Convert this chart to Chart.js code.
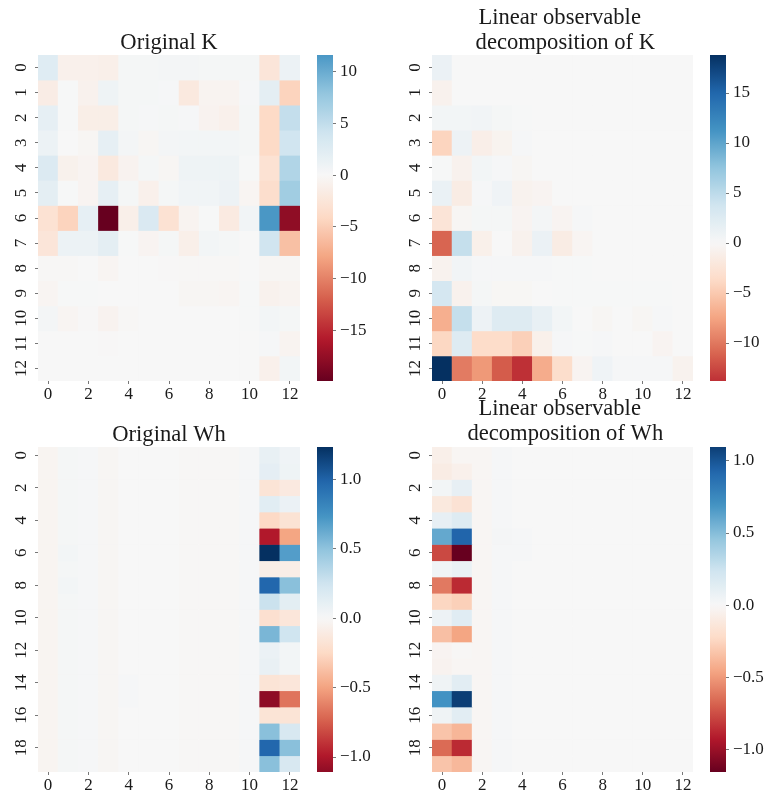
<!DOCTYPE html>
<html>
<head>
<meta charset="utf-8">
<script src="https://cdn.jsdelivr.net/npm/chart.js@4.4.0/dist/chart.umd.min.js"></script>
<style>
  body { margin: 0; background: #fff; }
  #wrap { position: relative; width: 767px; height: 797px; overflow: hidden; }
  canvas { position: absolute; }
</style>
</head>
<body>
<div id="wrap"></div>
<script>
// Column / row tick labels
const columns = ['0','1','2','3','4','5','6','7','8','9','10','11','12'];
const colTicks = [0, 2, 4, 6, 8, 10, 12];
const kRowTicks = [0, 1, 2, 3, 4, 5, 6, 7, 8, 9, 10, 11, 12];
const whRowTicks = [0, 2, 4, 6, 8, 10, 12, 14, 16, 18];

// Colorbar tick labels
const kOrigBarTicks = [10, 5, 0, -5, -10, -15];
const kDecompBarTicks = [15, 10, 5, 0, -5, -10];
const whBarTicks = [1.0, 0.5, 0.0, -0.5, -1.0];

// Original K (13 x 13)
const kOriginal = [
  [2.5, -1.0, -1.0, -1.2, 0.3, 0.3, 0.4, 0.4, 0.3, 0.3, 0.3, -2.5, 1.2],
  [-1.5, 0.1, -0.8, 0.9, 0.3, 0.3, 0.2, -2.0, -0.6, -0.6, 0.2, 2.0, -4.5],
  [1.8, 0.1, -1.3, -1.3, 0.3, 0.2, 0.3, 0.2, -0.7, -1.0, 0.3, -4.0, 4.8],
  [1.2, 0.0, -0.3, 1.8, 0.4, -0.3, 0.4, 0.5, 0.5, 0.5, 0.3, -4.0, 4.0],
  [2.8, -0.9, -0.5, -2.0, -0.7, 0.3, -0.3, 0.9, 0.9, 0.9, 0.1, -3.0, 6.0],
  [2.0, 0.1, -0.5, 1.8, 0.3, -1.0, 0.3, 0.7, 0.7, 1.0, -0.4, -3.5, 7.0],
  [-3.0, -4.5, 1.8, -19.9, -1.2, 3.0, -3.0, -0.6, 0.1, -1.8, 0.6, 11.6, -17.8],
  [-2.5, 1.2, 1.2, 2.0, 0.1, -0.5, 0.3, -1.2, 0.5, 0.3, 0.0, 4.0, -6.0],
  [-0.2, -0.2, 0.0, -0.4, 0.0, 0.0, -0.1, -0.2, -0.2, -0.2, 0.0, -0.3, -0.3],
  [-0.4, 0.1, 0.1, 0.0, 0.0, 0.0, 0.0, -0.3, -0.3, -0.4, 0.1, -0.8, -0.6],
  [0.4, -0.4, -0.1, -0.7, -0.2, 0.0, 0.0, 0.0, 0.0, 0.0, 0.1, 0.5, 0.3],
  [0.0, 0.0, 0.0, -0.1, 0.0, 0.0, 0.0, 0.0, 0.0, 0.0, 0.0, 0.2, -0.6],
  [0.0, 0.0, 0.0, 0.0, 0.0, 0.0, 0.0, 0.0, 0.0, 0.0, 0.0, -1.0, 0.5]
];

// Linear observable decomposition of K (13 x 13)
const kDecomp = [
  [1.2, 0, 0, 0, 0, 0, 0, 0, 0, 0, 0, 0, 0],
  [-0.8, 0, 0, 0, 0, 0, 0, 0, 0, 0, 0, 0, 0],
  [0.5, 0.5, 0.6, 0.3, 0.1, 0, 0, 0, 0, 0, 0, 0, 0],
  [-4.2, 1.0, -1.2, -0.6, 0.2, 0, 0, 0, 0, 0, 0, 0, 0],
  [0.1, -0.8, 0.5, 0.2, -0.3, 0, 0, 0, 0, 0, 0, 0, 0],
  [1.3, -1.5, 0.2, 0.8, -0.7, -0.5, 0, 0, 0, 0, 0, 0, 0],
  [-2.5, -0.3, 0.3, 0.3, -0.5, 0.4, -0.5, 0.2, 0, 0, 0, 0, 0],
  [-11.0, 4.5, -1.0, 0.0, -0.8, 1.2, -1.5, -0.4, 0, 0, 0, 0, 0],
  [-0.7, 0.6, 0.2, 0.2, 0.2, 0.2, 0.1, 0.1, 0, 0, 0, 0, 0],
  [3.4, -0.8, 0.3, -0.2, -0.2, 0.0, 0.1, 0.1, 0.1, 0.1, 0.1, 0.1, 0],
  [-6.8, 4.5, 1.0, 2.5, 2.5, 1.5, 0.5, 0.0, -0.3, 0.0, -0.3, 0.2, 0.0],
  [-4.0, 2.5, -3.5, -3.5, -4.5, -1.0, 0.2, 0.1, 0.2, 0.0, 0.0, -0.5, 0.0],
  [18.8, -9.8, -8.2, -11.5, -13.8, -7.0, -3.4, -0.5, 0.8, 0.2, 0.2, 0.2, -0.7]
];

// Original Wh (20 x 13)
const whOriginal = [
  [-0.03, 0.02, 0.015, -0.02, 0, 0, 0, -0.01, -0.01, -0.01, 0.01, 0.10, 0.05],
  [-0.03, 0.02, 0.015, -0.02, 0, 0, 0, -0.01, -0.01, -0.01, 0.01, 0.12, 0.06],
  [-0.03, 0.02, 0.015, -0.02, 0, 0, 0, -0.01, -0.01, -0.01, 0.01, -0.17, -0.12],
  [-0.03, 0.02, 0.015, -0.02, 0, 0, 0, -0.01, -0.01, -0.01, 0.01, 0.14, 0.08],
  [-0.03, 0.02, 0.015, -0.02, 0, 0, 0, -0.01, -0.01, -0.01, 0.01, -0.25, -0.18],
  [-0.03, 0.02, 0.015, -0.02, 0, 0, 0, -0.01, -0.01, -0.01, 0.01, -0.99, -0.49],
  [-0.03, 0.03, 0.015, -0.02, 0, 0, 0, -0.01, -0.01, -0.01, 0.01, 1.235, 0.69],
  [-0.03, 0.02, 0.015, -0.02, 0, 0, 0, -0.01, -0.01, -0.01, 0.01, -0.08, -0.08],
  [-0.03, 0.03, 0.015, -0.02, 0, 0, 0, -0.01, -0.01, -0.01, 0.01, 0.98, 0.52],
  [-0.03, 0.02, 0.015, -0.02, 0, 0, 0, -0.01, -0.01, -0.01, 0.01, 0.27, 0.13],
  [-0.03, 0.02, 0.015, -0.02, 0, 0, 0, -0.01, -0.01, -0.01, 0.01, -0.2, -0.15],
  [-0.03, 0.02, 0.015, -0.02, 0, 0, 0, -0.01, -0.01, -0.01, 0.01, 0.57, 0.25],
  [-0.03, 0.02, 0.015, -0.02, 0, 0, 0, -0.01, -0.01, -0.01, 0.01, 0.08, 0.03],
  [-0.03, 0.02, 0.015, -0.02, 0, 0, 0, -0.01, -0.01, -0.01, 0.01, 0.09, 0.03],
  [-0.03, 0.02, 0.015, -0.02, 0.01, 0, 0, -0.01, -0.01, -0.01, 0.01, -0.17, -0.15],
  [-0.03, 0.02, 0.015, -0.02, 0.01, 0, 0, -0.01, -0.01, -0.01, 0.01, -1.108, -0.67],
  [-0.03, 0.02, 0.015, -0.02, 0, 0, 0, -0.01, -0.01, -0.01, 0.01, -0.17, -0.17],
  [-0.03, 0.02, 0.015, -0.02, 0, 0, 0, -0.01, -0.01, -0.01, 0.01, 0.52, 0.2],
  [-0.03, 0.02, 0.015, -0.02, 0, 0, 0, -0.01, -0.01, -0.01, 0.01, 0.98, 0.52],
  [-0.03, 0.02, 0.015, -0.02, 0, 0, 0, -0.01, -0.01, -0.01, 0.01, 0.52, 0.2]
];

// Linear observable decomposition of Wh (20 x 13)
const whDecomp = [
  [-0.07, -0.02, -0.02, 0.01, 0, 0, 0, 0, 0, 0, 0, 0, 0],
  [-0.09, -0.06, -0.02, 0.01, 0, 0, 0, 0, 0, 0, 0, 0, 0],
  [0.03, 0.10, -0.02, 0.01, 0, 0, 0, 0, 0, 0, 0, 0, 0],
  [-0.12, -0.17, -0.02, 0.01, 0, 0, 0, 0, 0, 0, 0, 0, 0],
  [0.10, 0.15, -0.02, 0.01, 0, 0, 0, 0, 0, 0, 0, 0, 0],
  [0.60, 0.93, -0.02, 0.02, 0.01, 0, 0, 0, 0, 0, 0, 0, 0],
  [-0.77, -1.159, -0.02, 0.01, 0.01, 0, 0, 0, 0, 0, 0, 0, 0],
  [0.04, 0.08, -0.02, 0.01, 0, 0, 0, 0, 0, 0, 0, 0, 0],
  [-0.61, -0.87, -0.02, 0.01, 0, 0, 0, 0, 0, 0, 0, 0, 0],
  [-0.25, -0.28, -0.02, 0.01, 0, 0, 0, 0, 0, 0, 0, 0, 0],
  [0.06, 0.14, -0.02, 0.01, 0, 0, 0, 0, 0, 0, 0, 0, 0],
  [-0.35, -0.46, -0.02, 0.01, 0, 0, 0, 0, 0, 0, 0, 0, 0],
  [-0.03, -0.01, -0.02, 0.01, 0, 0, 0, 0, 0, 0, 0, 0, 0],
  [-0.04, -0.02, -0.02, 0.01, 0, 0, 0, 0, 0, 0, 0, 0, 0],
  [0.05, 0.13, -0.02, 0.01, 0, 0, 0, 0, 0, 0, 0, 0, 0],
  [0.70, 1.097, -0.02, 0.01, 0, 0, 0, 0, 0, 0, 0, 0, 0],
  [0.05, 0.13, -0.02, 0.01, 0, 0, 0, 0, 0, 0, 0, 0, 0],
  [-0.33, -0.39, -0.02, 0.01, 0, 0, 0, 0, 0, 0, 0, 0, 0],
  [-0.66, -0.87, -0.02, 0.01, 0, 0, 0, 0, 0, 0, 0, 0, 0],
  [-0.33, -0.38, -0.02, 0.01, 0, 0, 0, 0, 0, 0, 0, 0, 0]
];

const FONT = "'Liberation Serif', 'DejaVu Serif', serif";
const TEXT = '#1a1a1a';
const TITLE_SIZE = 22.6;
Chart.defaults.font.family = FONT;
Chart.defaults.color = TEXT;

// RdBu colormap (matplotlib), red = low, blue = high
const rdbu = ['#67001f', '#b2182b', '#d6604d', '#f4a582', '#fddbc7', '#f7f7f7',
              '#d1e5f0', '#92c5de', '#4393c3', '#2166ac', '#053061'];
const rdbuRgb = rdbu.map(h => [1, 3, 5].map(i => parseInt(h.substr(i, 2), 16)));

function cmap(v, lim) {
  let t = (v + lim) / (2 * lim);
  t = Math.max(0, Math.min(1, t));
  const p = t * 10;
  const i = Math.min(9, Math.floor(p));
  const f = p - i;
  const a = rdbuRgb[i], b = rdbuRgb[i + 1];
  const c = a.map((x, k) => Math.round(x + (b[k] - x) * f));
  return `rgb(${c[0]},${c[1]},${c[2]})`;
}

function fmtBar(v, digits) {
  const s = Math.abs(v).toFixed(digits);
  return v < 0 ? '\u2212' + s : s;
}

const wrap = document.getElementById('wrap');
function makeCanvas(left, top, w, h) {
  const c = document.createElement('canvas');
  c.width = w; c.height = h;
  c.style.left = left + 'px'; c.style.top = top + 'px';
  c.style.width = w + 'px'; c.style.height = h + 'px';
  wrap.appendChild(c);
  return c;
}

// rotated y tick labels, like seaborn
const rotatedYLabels = {
  id: 'rotatedYLabels',
  afterDraw(chart) {
    const s = chart.scales.y;
    const ctx = chart.ctx;
    ctx.save();
    ctx.font = '17px ' + FONT;
    ctx.fillStyle = TEXT;
    ctx.textAlign = 'center';
    ctx.textBaseline = 'middle';
    s.ticks.forEach(t => {
      const y = s.getPixelForValue(t.value);
      ctx.save();
      ctx.translate(chart.chartArea.left - 16.5, y);
      ctx.rotate(-Math.PI / 2);
      ctx.fillText(String(t.value - 0.5), 0, 0);
      ctx.restore();
    });
    ctx.restore();
  }
};

function drawHeatmap(p) {
  const canvasTop = p.canvasTop;
  const w = (p.R - p.L) + 45;
  const h = (p.B - canvasTop) + 24;
  const canvas = makeCanvas(p.L - 40, canvasTop, w, h);
  const nRows = p.values.length;
  const lh = p.lineHeight;
  const padTop = p.titleCenter - canvasTop - lh / 2;
  const padBottom = (p.T - canvasTop) - padTop - lh * p.title.length;

  const datasets = p.values.map((row, r) => ({
    data: row.map(() => [r, r + 1]),
    backgroundColor: row.map(v => cmap(v, p.lim)),
    borderWidth: 0,
    barPercentage: 1,
    categoryPercentage: 1,
    grouped: false
  }));

  new Chart(canvas.getContext('2d'), {
    type: 'bar',
    data: { labels: columns, datasets: datasets },
    options: {
      responsive: false,
      animation: false,
      layout: { padding: { left: 0, right: 5, top: 0, bottom: 0 } },
      plugins: {
        legend: { display: false },
        tooltip: { enabled: false },
        title: {
          display: true,
          text: p.title,
          fullSize: false,
          color: TEXT,
          font: { family: FONT, size: TITLE_SIZE, weight: 'normal', lineHeight: lh / TITLE_SIZE },
          padding: { top: padTop, bottom: padBottom }
        }
      },
      scales: {
        x: {
          type: 'category',
          offset: true,
          grid: { offset: false, drawOnChartArea: false, drawTicks: true, tickLength: 3, color: '#555', lineWidth: 0.8 },
          border: { display: false },
          ticks: { autoSkip: false, maxRotation: 0, padding: 0, color: TEXT, font: { family: FONT, size: 17 } },
          afterBuildTicks: s => { s.ticks = colTicks.map(c => ({ value: c })); },
          afterFit: s => { s.height = 24; }
        },
        y: {
          type: 'linear',
          min: 0,
          max: nRows,
          reverse: true,
          grid: { drawOnChartArea: false, drawTicks: true, tickLength: 3, color: '#555', lineWidth: 0.8 },
          border: { display: false },
          ticks: { display: false },
          afterBuildTicks: s => { s.ticks = p.rowTicks.map(r => ({ value: r + 0.5 })); },
          afterFit: s => { s.width = 40; }
        }
      }
    },
    plugins: [rotatedYLabels]
  });
}

function drawColorbar(p) {
  const canvasTop = p.canvasTop;
  const h = (p.B - canvasTop) + 24;
  const canvas = makeCanvas(p.CL - 5, canvasTop, 71, h);
  new Chart(canvas.getContext('2d'), {
    type: 'bar',
    data: {
      labels: ['bar'],
      datasets: [{
        data: [[p.vmin, p.vmax]],
        borderWidth: 0,
        barPercentage: 1,
        categoryPercentage: 1,
        backgroundColor: (ctx) => {
          const ch = ctx.chart;
          if (!ch.chartArea) return null;
          const ys = ch.scales.y;
          const y0 = ys.getPixelForValue(p.vmin);
          const y1 = ys.getPixelForValue(p.vmax);
          const g = ch.ctx.createLinearGradient(0, y0, 0, y1);
          for (let i = 0; i <= 60; i++) {
            const f = i / 60;
            g.addColorStop(f, cmap(p.vmin + f * (p.vmax - p.vmin), p.lim));
          }
          return g;
        }
      }]
    },
    options: {
      responsive: false,
      animation: false,
      layout: { padding: { left: 5, right: 0, top: p.T - canvasTop, bottom: h - (p.B - canvasTop) } },
      plugins: { legend: { display: false }, tooltip: { enabled: false } },
      scales: {
        x: { display: false },
        y: {
          type: 'linear',
          position: 'right',
          min: p.vmin,
          max: p.vmax,
          grid: { drawOnChartArea: false, drawTicks: true, tickLength: 3, color: '#555', lineWidth: 0.8 },
          border: { display: false },
          ticks: {
            padding: 4,
            color: TEXT,
            font: { family: FONT, size: 17 },
            callback: (v) => fmtBar(v, p.digits)
          },
          afterBuildTicks: s => { s.ticks = p.barTicks.map(v => ({ value: v })); },
          afterFit: s => { s.width = 50; }
        }
      }
    }
  });
}

const panels = [
  { title: ['Original K'], titleCenter: 42.7, lineHeight: 24.2,
    L: 38, R: 300, T: 55, B: 381, canvasTop: 0, CL: 317,
    values: kOriginal, rowTicks: kRowTicks, lim: 19.9, vmin: -19.9, vmax: 11.6,
    barTicks: kOrigBarTicks, digits: 0 },
  { title: ['Linear observable ', ' decomposition of K'], titleCenter: 18.4, lineHeight: 24.3,
    L: 432, R: 693, T: 55, B: 381, canvasTop: 0, CL: 710,
    values: kDecomp, rowTicks: kRowTicks, lim: 18.8, vmin: -13.8, vmax: 18.8,
    barTicks: kDecompBarTicks, digits: 0 },
  { title: ['Original Wh'], titleCenter: 435, lineHeight: 24.2,
    L: 38, R: 300, T: 447, B: 772, canvasTop: 390, CL: 317,
    values: whOriginal, rowTicks: whRowTicks, lim: 1.235, vmin: -1.108, vmax: 1.235,
    barTicks: whBarTicks, digits: 1 },
  { title: ['Linear observable ', ' decomposition of Wh'], titleCenter: 409.4, lineHeight: 24.7,
    L: 432, R: 693, T: 447, B: 772, canvasTop: 390, CL: 710,
    values: whDecomp, rowTicks: whRowTicks, lim: 1.159, vmin: -1.159, vmax: 1.097,
    barTicks: whBarTicks, digits: 1 }
];

panels.forEach(p => {
  drawHeatmap(p);
  drawColorbar(p);
});
</script>
</body>
</html>
